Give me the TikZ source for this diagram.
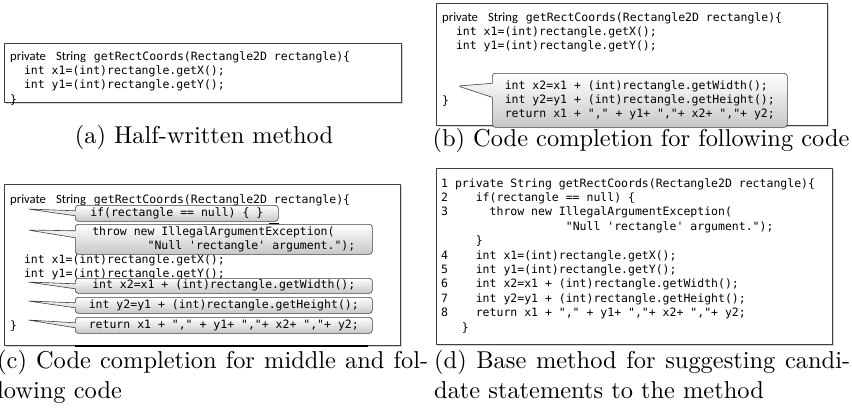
\documentclass[tikz,border=0pt]{standalone}
\usepackage{fontspec}
\setmonofont{DejaVu Sans Mono}
\newfontfamily\privfont{Carlito}[Scale=1.1]
\font\captfnt="[lmroman10-regular]:+tlig;" at 24.4pt
\usetikzlibrary{shapes.callouts,shadows}

\newcommand{\privhead}{{\privfont private\hspace{10pt}String}\hspace{8pt}}

\tikzset{
    codebox/.style = {draw = black!75, line width = 0.8pt, fill = white, anchor = north west, inner sep = 0pt,
        drop shadow = {shadow xshift = 1.5pt, shadow yshift = -1.5pt, opacity = 0.35}},
    code/.style = {font = \fontsize{11.5}{14.4}\selectfont, align = left, anchor = north west, inner sep = 0pt},
    bubble/.style = {rectangle callout, draw = black!75, line width = 0.6pt, rounded corners = 3pt,
        top color = white, bottom color = black!22, anchor = north west, inner sep = 0pt,
        font = \fontsize{11.5}{14.4}\selectfont, align = left},
    blackbar/.style = {line width = 1.6pt, black},
    capt/.style = {font = {\captfnt\baselineskip=29.5pt}, inner sep = 0pt}
}

\begin{document}
\begin{tikzpicture}[x = 1pt, y = -1pt]
    \useasboundingbox (0,0) rectangle (852,416);

    % (a)
    \node[codebox, minimum width = 397pt, minimum height = 59pt] (boxa) at (4,43) {};
    \node[code] (codea) at (10,51)
    {
        \privhead\verb|getRectCoords(Rectangle2D rectangle){| \\
        \verb|  int x1=(int)rectangle.getX();| \\
        \verb|  int y1=(int)rectangle.getY();| \\
        \verb|}|
    };
    \node[capt, anchor = base] (capa) at (204,143) {(a) Half-written method};

    % (b)
    \node[codebox, minimum width = 391pt, minimum height = 122pt] (boxb) at (436,3) {};
    \node[code] (codeb) at (442,12)
    {
        \privhead\verb|getRectCoords(Rectangle2D rectangle){| \\
        \verb|  int x1=(int)rectangle.getX();| \\
        \verb|  int y1=(int)rectangle.getY();|
    };
    \node[code] (closeb) at (442,96) {\verb|}|};
    \coordinate (tipb) at (458,86);
    \node[bubble, callout absolute pointer = {(tipb)}, callout pointer width = 14pt,
        minimum width = 295pt, minimum height = 54pt] (sugb) at (492,73)
    {
        \verb|int x2=x1 + (int)rectangle.getWidth();| \\
        \verb|int y2=y1 + (int)rectangle.getHeight();| \\
        \verb|return x1 + "," + y1+ ","+ x2+ ","+ y2;|
    };
    \node[capt, anchor = base] (capb) at (641,146) {(b) Code completion for following code};

    % (c)
    \node[codebox, minimum width = 396pt, minimum height = 161pt] (boxc) at (4,184) {};
    \node[code] (headc) at (10,194) {\privhead\verb|getRectCoords(Rectangle2D rectangle){|};
    \node[code] (codec) at (10,254)
    {
        \verb|  int x1=(int)rectangle.getX();| \\
        \verb|  int y1=(int)rectangle.getY();|
    };
    \node[code] (closec) at (10,321) {\verb|}|};
    \coordinate (tipc1) at (28,209);
    \coordinate (tipc2) at (28,230);
    \coordinate (tipc3) at (28,282);
    \coordinate (tipc4) at (28,301);
    \coordinate (tipc5) at (28,320);
    \node[bubble, callout absolute pointer = {(tipc1)}, callout pointer width = 5pt,
        minimum width = 203pt, minimum height = 16pt] (ifc) at (75,205)
        {\verb|if(rectangle == null) { }|};
    \node[bubble, callout absolute pointer = {(tipc2)}, callout pointer width = 7pt,
        minimum width = 297pt, minimum height = 30pt] (throwc) at (75,224)
    {
        \verb|throw new IllegalArgumentException(| \\
        \verb|        "Null 'rectangle' argument.");|
    };
    \node[bubble, callout absolute pointer = {(tipc3)}, callout pointer width = 5pt,
        minimum width = 297pt, minimum height = 15pt] (x2c) at (75,278)
        {\verb|int x2=x1 + (int)rectangle.getWidth();|};
    \node[bubble, callout absolute pointer = {(tipc4)}, callout pointer width = 5pt,
        minimum width = 297pt, minimum height = 16pt] (y2c) at (75,297)
        {\verb|int y2=y1 + (int)rectangle.getHeight();|};
    \node[bubble, callout absolute pointer = {(tipc5)}, callout pointer width = 5pt,
        minimum width = 297pt, minimum height = 16pt] (retc) at (75,317)
        {\verb|return x1 + "," + y1+ ","+ x2+ ","+ y2;|};
    \draw[blackbar] ([shift = {(-10,2)}]ifc.south east) -- ([yshift = -2pt]ifc.south east);
    \draw[blackbar] (boxc.south west -| retc.west) -- ([xshift = -5pt]boxc.south west -| retc.east);
    \node[capt, text width = 431pt, align = justify, anchor = north west] (capc) at (-3,350)
        {(c) Code completion for middle and fol-\linebreak lowing code};

    % (d)
    \node[codebox, minimum width = 396pt, minimum height = 176pt] (boxd) at (436,168) {};
    \node[code] (coded) at (441,178)
    {
        \verb|1 private String getRectCoords(Rectangle2D rectangle){| \\
        \verb|2    if(rectangle == null) {| \\
        \verb|3      throw new IllegalArgumentException(| \\
        \verb|                  "Null 'rectangle' argument.");| \\
        \verb|     }| \\
        \verb|4    int x1=(int)rectangle.getX();| \\
        \verb|5    int y1=(int)rectangle.getY();| \\
        \verb|6    int x2=x1 + (int)rectangle.getWidth();| \\
        \verb|7    int y2=y1 + (int)rectangle.getHeight();| \\
        \verb|8    return x1 + "," + y1+ ","+ x2+ ","+ y2;| \\
        \verb|   }|
    };
    \node[capt, text width = 416pt, align = justify, anchor = north west] (capd) at (434,350)
        {(d) Base method for suggesting candi-\linebreak date statements to the method};
\end{tikzpicture}
\end{document}
